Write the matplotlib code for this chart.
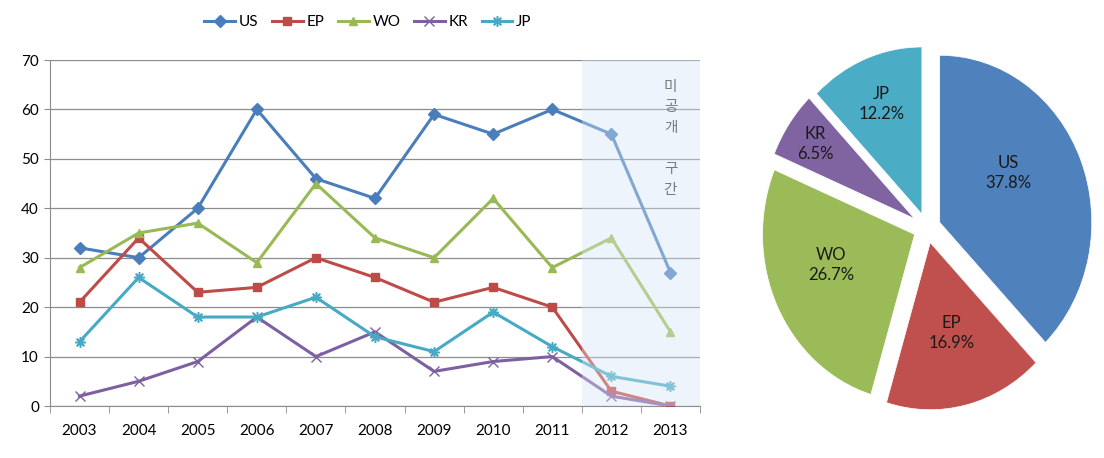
import matplotlib
matplotlib.use("Agg")
import matplotlib.pyplot as plt
import numpy as np

plt.rcParams['font.family'] = ['Lato', 'Noto Sans CJK KR', 'DejaVu Sans']

years = ['2003', '2004', '2005', '2006', '2007', '2008', '2009', '2010', '2011', '2012', '2013']
series_names = ['US', 'EP', 'WO', 'KR', 'JP']
us = [32, 30, 40, 60, 46, 42, 59, 55, 60, 55, 27]
ep = [21, 34, 23, 24, 30, 26, 21, 24, 20, 3, 0]
wo = [28, 35, 37, 29, 45, 34, 30, 42, 28, 34, 15]
kr = [2, 5, 9, 18, 10, 15, 7, 9, 10, 2, 0]
jp = [13, 26, 18, 18, 22, 14, 11, 19, 12, 6, 4]
pie_labels = ['US', 'EP', 'WO', 'KR', 'JP']
pie_shares = [37.8, 16.9, 26.7, 6.5, 12.2]
y_ticks = [0, 10, 20, 30, 40, 50, 60, 70]
shade_label = '미\n공\n개\n\n구\n간'

line_colors = ['#4a7ebb', '#be4b48', '#98b954', '#7d60a0', '#46aac5']
markers = ['D', 's', '^', 'x', '$\u2733$']
pie_colors = ['#4f81bd', '#c0504d', '#9bbb59', '#8064a2', '#4bacc6']

fig = plt.figure(figsize=(11.04, 4.58), dpi=100)
ax = fig.add_axes([50/1104, 1-406/458, 650/1104, 346/458])

x = np.arange(len(years))
all_series = [us, ep, wo, kr, jp]
handles = []
for vals, name, c, m in zip(all_series, series_names, line_colors, markers):
    ms = 6 if m in ('D', 's', '^') else 7
    h, = ax.plot(x, vals, color=c, lw=2.2, marker=m, ms=ms, mec=c, mfc=c,
                 mew=1.0, label=name, zorder=3)
    handles.append(h)

ax.axvspan(8.5, 10.5, color='#edf4fb', lw=0, zorder=0)
ax.axvspan(8.5, 10.5, color='#edf4fb', alpha=0.35, lw=0, zorder=4)
ax.text(10.0, 66.0, shade_label, ha='center', va='top', fontsize=10.5,
        color='#7a7a7a', family=['Noto Sans CJK KR'], linespacing=1.6, zorder=5)

ax.set_xlim(-0.5, 10.5)
ax.set_ylim(0, 70)
ax.set_yticks(y_ticks)
ax.yaxis.grid(True, color='#8c8c8c', lw=0.9, zorder=1)
ax.set_axisbelow(True)
ax.set_xticks(x)
ax.set_xticklabels(years)
ax.set_xticks(np.arange(-0.5, 11, 1), minor=True)
ax.tick_params(axis='x', which='major', length=0, pad=13, labelsize=11)
ax.tick_params(axis='x', which='minor', length=5, color='#8c8c8c', direction='out')
ax.tick_params(axis='y', length=4, color='#8c8c8c', labelsize=11, pad=4)
for s in ['top', 'right']:
    ax.spines[s].set_visible(False)
ax.spines['left'].set_color('#8c8c8c')
ax.spines['bottom'].set_color('#8c8c8c')

fig.legend(handles=handles, loc='center', bbox_to_anchor=(368/1104, 1-22/458),
           ncol=5, frameon=False, fontsize=11, handlelength=2.0, columnspacing=0.9,
           handletextpad=0.25)

# pie (slightly stretched vertically, like the reference)
pw, ph = 365, 401
pcx, pcy = 927, 228
pax = fig.add_axes([(pcx - pw/2)/1104, 1-(pcy + ph/2)/458, pw/1104, ph/458])
explode = [0.09, 0.09, 0.09, 0.1, 0.09]
label_dist = [0.54, 0.56, 0.58, 0.79, 0.71]
label_turn = [11, 1, -7, 0, 0]
wedges, texts = pax.pie(pie_shares, colors=pie_colors, startangle=90, counterclock=False,
                        explode=explode, labels=[f'{l}\n{v:.1f}%' for l, v in zip(pie_labels, pie_shares)],
                        labeldistance=0.55, textprops=dict(fontsize=12, ha='center', va='center',
                                                           color='#1a1a1a', linespacing=1.35))
for w, t, d, tr in zip(wedges, texts, label_dist, label_turn):
    w.set_edgecolor('white')
    w.set_linewidth(0.5)
    ang = np.deg2rad((w.theta1 + w.theta2) / 2 + tr)
    cx, cy = w.center
    t.set_position((cx + d * np.cos(ang), cy + d * np.sin(ang)))
pax.set_aspect('auto')
pax.set_xlim(-1.2, 1.2)
pax.set_ylim(-1.2, 1.2)

fig.savefig('out.png', dpi=100)
